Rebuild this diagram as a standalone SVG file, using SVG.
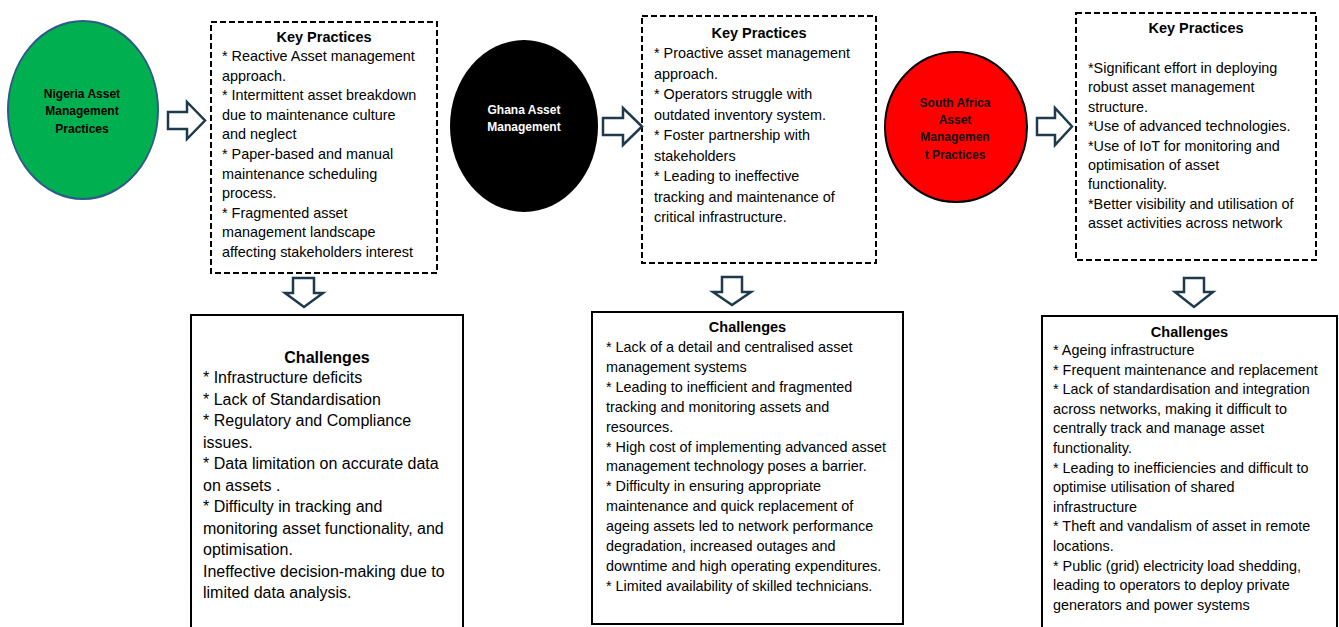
<svg xmlns="http://www.w3.org/2000/svg" width="1339" height="627" viewBox="0 0 1339 627">
<style>
.t{font-family:"Liberation Sans",Arial,sans-serif;font-size:14.4px;fill:#000}
.c1{font-size:16px}
.h{font-family:"Liberation Sans",Arial,sans-serif;font-weight:bold;font-size:14.5px;fill:#000;text-anchor:middle}
.h16{font-size:16px}
.e{font-family:"Liberation Sans",Arial,sans-serif;font-weight:bold;font-size:12px;text-anchor:middle}
.kp{fill:#fff;stroke:#000;stroke-width:2;stroke-dasharray:6 3}
.ch{fill:#fff;stroke:#000;stroke-width:2}
.arr{fill:#fff;stroke:#1E3A4C;stroke-width:2.5;stroke-linejoin:miter}
</style>
<rect width="1339" height="627" fill="#fff"/>

<g id="nigeria">
<ellipse cx="83" cy="110" rx="75" ry="89" fill="#00B050" stroke="#2E5A88" stroke-width="2"/>
<text class="e" fill="#000"><tspan x="82" y="97.5">Nigeria Asset</tspan><tspan x="82" y="115">Management</tspan><tspan x="82" y="132.5">Practices</tspan></text>
</g>

<g id="nigeria-practices">
<rect class="kp" x="211" y="22" width="226" height="251"/>
<text class="h" x="324" y="42">Key Practices</text>
<text class="t"><tspan x="222" y="61">* Reactive Asset management</tspan><tspan x="222" y="80.6">approach.</tspan><tspan x="222" y="100.2">* Intermittent asset breakdown</tspan><tspan x="222" y="119.8">due to maintenance culture</tspan><tspan x="222" y="139.4">and neglect</tspan><tspan x="222" y="159">* Paper-based and manual</tspan><tspan x="222" y="178.6">maintenance scheduling</tspan><tspan x="222" y="198.2">process.</tspan><tspan x="222" y="217.8">* Fragmented asset</tspan><tspan x="222" y="237.4">management landscape</tspan><tspan x="222" y="257">affecting stakeholders interest</tspan></text>
</g>

<g id="nigeria-challenges">
<rect class="ch" x="191" y="315" width="272" height="330"/>
<text class="h h16" x="327" y="363">Challenges</text>
<text class="t c1"><tspan x="203" y="383">* Infrastructure deficits</tspan><tspan x="203" y="404.5">* Lack of Standardisation</tspan><tspan x="203" y="426">* Regulatory and Compliance</tspan><tspan x="203" y="447.5">issues.</tspan><tspan x="203" y="469">* Data limitation on accurate data</tspan><tspan x="203" y="490.5">on assets .</tspan><tspan x="203" y="512">* Difficulty in tracking and</tspan><tspan x="203" y="533.5">monitoring asset functionality, and</tspan><tspan x="203" y="555">optimisation.</tspan><tspan x="203" y="576.5">Ineffective decision-making due to</tspan><tspan x="203" y="598">limited data analysis.</tspan></text>
</g>

<g id="ghana">
<ellipse cx="524" cy="126" rx="74" ry="86" fill="#000"/>
<text class="e" fill="#fff"><tspan x="524" y="113.5">Ghana Asset</tspan><tspan x="524" y="130.5">Management</tspan></text>
</g>

<g id="ghana-practices">
<rect class="kp" x="642" y="16" width="234" height="247"/>
<text class="h" x="759" y="38">Key Practices</text>
<text class="t"><tspan x="654" y="58">* Proactive asset management</tspan><tspan x="654" y="78.5">approach.</tspan><tspan x="654" y="99">* Operators struggle with</tspan><tspan x="654" y="119.5">outdated inventory system.</tspan><tspan x="654" y="140">* Foster partnership with</tspan><tspan x="654" y="160.5">stakeholders</tspan><tspan x="654" y="181">* Leading to ineffective</tspan><tspan x="654" y="201.5">tracking and maintenance of</tspan><tspan x="654" y="222">critical infrastructure.</tspan></text>
</g>

<g id="ghana-challenges">
<rect class="ch" x="592" y="312" width="311" height="312"/>
<text class="h" x="747.5" y="332">Challenges</text>
<text class="t"><tspan x="606" y="352">* Lack of a detail and centralised asset</tspan><tspan x="606" y="371.9">management systems</tspan><tspan x="606" y="391.8">* Leading to inefficient and fragmented</tspan><tspan x="606" y="411.7">tracking and monitoring assets and</tspan><tspan x="606" y="431.6">resources.</tspan><tspan x="606" y="451.5">* High cost of implementing advanced asset</tspan><tspan x="606" y="471.4">management technology poses a barrier.</tspan><tspan x="606" y="491.3">* Difficulty in ensuring appropriate</tspan><tspan x="606" y="511.2">maintenance and quick replacement of</tspan><tspan x="606" y="531.1">ageing assets led to network performance</tspan><tspan x="606" y="551">degradation, increased outages and</tspan><tspan x="606" y="570.9">downtime and high operating expenditures.</tspan><tspan x="606" y="590.8">* Limited availability of skilled technicians.</tspan></text>
</g>

<g id="south-africa">
<ellipse cx="956" cy="127" rx="71" ry="75" fill="#FF0000" stroke="#000" stroke-width="2"/>
<text class="e" fill="#111"><tspan x="955" y="106.5">South Africa</tspan><tspan x="955" y="123.5">Asset</tspan><tspan x="955" y="141">Managemen</tspan><tspan x="955" y="158.5">t Practices</tspan></text>
</g>

<g id="south-africa-practices">
<rect class="kp" x="1076" y="13" width="240" height="247"/>
<text class="h" x="1196" y="33">Key Practices</text>
<text class="t"><tspan x="1088" y="73">*Significant effort in deploying</tspan><tspan x="1088" y="92.4">robust asset management</tspan><tspan x="1088" y="111.8">structure.</tspan><tspan x="1088" y="131.2">*Use of advanced technologies.</tspan><tspan x="1088" y="150.6">*Use of IoT for monitoring and</tspan><tspan x="1088" y="170">optimisation of asset</tspan><tspan x="1088" y="189.4">functionality.</tspan><tspan x="1088" y="208.8">*Better visibility and utilisation of</tspan><tspan x="1088" y="228.2">asset activities across network</tspan></text>
</g>

<g id="south-africa-challenges">
<rect class="ch" x="1042" y="316" width="295" height="330"/>
<text class="h" x="1189.5" y="337">Challenges</text>
<text class="t"><tspan x="1053" y="355">* Ageing infrastructure</tspan><tspan x="1053" y="374.6">* Frequent maintenance and replacement</tspan><tspan x="1053" y="394.2">* Lack of standardisation and integration</tspan><tspan x="1053" y="413.8">across networks, making it difficult to</tspan><tspan x="1053" y="433.4">centrally track and manage asset</tspan><tspan x="1053" y="453">functionality.</tspan><tspan x="1053" y="472.6">* Leading to inefficiencies and difficult to</tspan><tspan x="1053" y="492.2">optimise utilisation of shared</tspan><tspan x="1053" y="511.8">infrastructure</tspan><tspan x="1053" y="531.4">* Theft and vandalism of asset in remote</tspan><tspan x="1053" y="551">locations.</tspan><tspan x="1053" y="570.6">* Public (grid) electricity load shedding,</tspan><tspan x="1053" y="590.2">leading to operators to deploy private</tspan><tspan x="1053" y="609.8">generators and power systems</tspan></text>
</g>

<g id="connectors">
<path class="arr" d="M168,112 H187 V102 L205,120.5 L187,139 V129 H168 Z"/>
<path class="arr" d="M603,118 H623 V108 L642,126.5 L623,145 V135 H603 Z"/>
<path class="arr" d="M1037,118 H1055 V108 L1072,126.5 L1055,145 V135 H1037 Z"/>
<path class="arr" d="M293,278 H314 V293 H323 L304,307 L285,293 H293 Z"/>
<path class="arr" d="M722,277 H742 V292 H751 L732,305 L713,292 H722 Z"/>
<path class="arr" d="M1184,278 H1204 V292 H1213 L1194,307 L1175,292 H1184 Z"/>
</g>
</svg>
